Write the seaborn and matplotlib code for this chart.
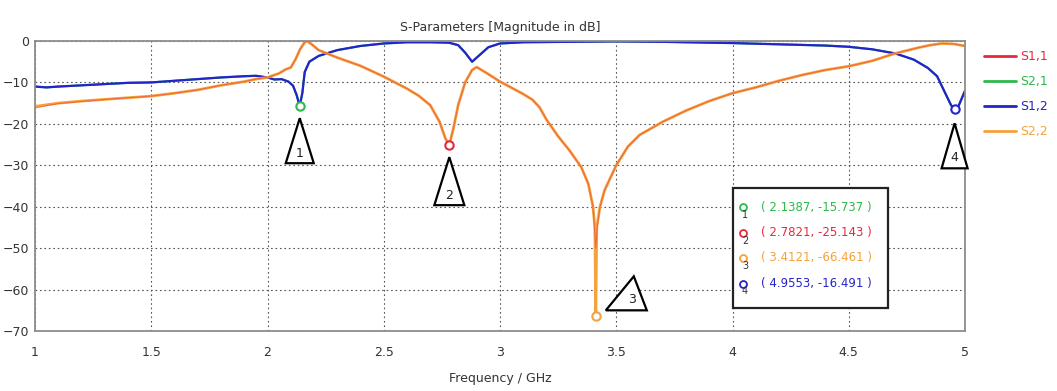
import numpy as np
import pandas as pd
import matplotlib
matplotlib.use("Agg")
import matplotlib.pyplot as plt
from matplotlib.patches import Polygon, Rectangle
import seaborn as sns

# --- dados (CST, S-parametros em dB) ---
series_names = ['S1,1', 'S2,1', 'S1,2', 'S2,2']
series_colors = ['#e8283a', '#2fb84c', '#2424cc', '#f5a23c']

freq_12 = [1.00, 1.05, 1.10, 1.20, 1.30, 1.40, 1.50, 1.60, 1.70, 1.80, 1.90, 1.95,
           2.00, 2.03, 2.06, 2.09, 2.11, 2.125, 2.1387, 2.15, 2.16, 2.18, 2.22, 2.30,
           2.40, 2.50, 2.60, 2.70, 2.78, 2.82, 2.85, 2.88, 2.91, 2.95, 3.00, 3.10,
           3.30, 3.50, 3.70, 3.90, 4.00, 4.20, 4.40, 4.50, 4.60, 4.70, 4.78, 4.84,
           4.88, 4.91, 4.94, 4.9553, 4.97, 4.985, 5.00]
s12_db = [-11.0, -11.2, -11.0, -10.7, -10.4, -10.1, -10.0, -9.6, -9.2, -8.8, -8.5, -8.4,
          -8.8, -9.3, -9.2, -9.8, -10.8, -13.0, -15.7, -12.5, -7.5, -5.0, -3.6, -2.2,
          -1.2, -0.6, -0.3, -0.3, -0.4, -1.0, -2.8, -5.0, -3.5, -1.5, -0.6, -0.3,
          -0.2, -0.1, -0.2, -0.4, -0.5, -0.8, -1.1, -1.4, -2.0, -3.0, -4.5, -6.5,
          -8.5, -12.0, -15.5, -16.5, -16.0, -14.0, -12.0]
s21_db = list(s12_db)  # S2,1 fica por baixo de S1,2

freq_22 = [1.00, 1.05, 1.10, 1.20, 1.30, 1.40, 1.50, 1.60, 1.70, 1.80, 1.90, 1.95,
           2.00, 2.05, 2.08, 2.10, 2.12, 2.14, 2.16, 2.17, 2.19, 2.22, 2.30, 2.40,
           2.50, 2.60, 2.65, 2.70, 2.74, 2.765, 2.7821, 2.80, 2.82, 2.85, 2.88, 2.90,
           2.95, 3.00, 3.05, 3.10, 3.14, 3.17, 3.20, 3.25, 3.30, 3.35, 3.38, 3.40,
           3.408, 3.4121, 3.416, 3.43, 3.45, 3.50, 3.55, 3.60, 3.70, 3.80, 3.90, 4.00,
           4.10, 4.20, 4.30, 4.40, 4.50, 4.60, 4.70, 4.80, 4.85, 4.90, 4.95, 5.00]
s22_db = [-15.8, -15.4, -15.0, -14.5, -14.1, -13.7, -13.3, -12.6, -11.8, -10.7, -9.8, -9.2,
          -8.8, -7.8, -6.8, -6.4, -4.5, -2.0, -0.3, 0.0, -0.8, -2.2, -4.0, -6.0,
          -8.6, -11.5, -13.2, -15.5, -19.5, -23.5, -25.1, -21.0, -15.5, -10.0, -7.0, -6.3,
          -8.0, -9.8, -11.3, -12.8, -14.2, -16.0, -19.0, -23.0, -26.5, -30.5, -34.5, -40.0,
          -45.0, -66.5, -45.0, -40.0, -36.0, -30.0, -25.5, -22.7, -19.5, -16.8, -14.5, -12.6,
          -11.2, -9.6, -8.2, -7.0, -6.1, -4.8, -3.0, -1.6, -1.0, -0.6, -0.7, -1.2]

freq_11 = [1.00, 1.05, 1.10, 1.20, 1.30, 1.40, 1.50, 1.60, 1.70, 1.80, 1.90, 1.95,
           2.00, 2.05, 2.08, 2.10, 2.12, 2.14, 2.16, 2.17, 2.19, 2.22, 2.30, 2.40,
           2.50, 2.60, 2.65, 2.70, 2.74, 2.765, 2.7821, 2.80, 2.82, 2.85, 2.88, 2.90,
           2.95, 3.00, 3.05, 3.10, 3.14, 3.17, 3.20, 3.25, 3.30, 3.35, 3.38, 3.40,
           3.406, 3.4121, 3.418, 3.43, 3.45, 3.50, 3.55, 3.60, 3.70, 3.80, 3.90, 4.00,
           4.10, 4.20, 4.30, 4.40, 4.50, 4.60, 4.70, 4.80, 4.85, 4.90, 4.95, 5.00]
s11_db = [-16.2, -15.6, -15.1, -14.6, -14.1, -13.7, -13.3, -12.6, -11.8, -10.7, -9.8, -9.2,
          -8.8, -7.8, -6.8, -6.4, -4.5, -2.0, -0.3, 0.0, -0.8, -2.2, -4.0, -6.0,
          -8.6, -11.5, -13.2, -15.5, -19.5, -23.5, -25.1, -21.0, -15.5, -10.0, -7.0, -6.3,
          -8.0, -9.8, -11.3, -12.8, -14.2, -16.0, -19.0, -23.0, -26.5, -30.5, -34.5, -40.0,
          -45.0, -50.0, -45.0, -40.0, -36.0, -30.0, -25.5, -22.7, -19.5, -16.8, -14.5, -12.6,
          -11.2, -9.6, -8.2, -7.0, -6.1, -4.8, -3.0, -1.6, -1.0, -0.6, -0.7, -1.2]

# marcadores
marker_ids = ['1', '2', '3', '4']
marker_series = ['S2,1', 'S1,1', 'S2,2', 'S1,2']
marker_freq = [2.1387, 2.7821, 3.4121, 4.9553]
marker_db = [-15.737, -25.143, -66.461, -16.491]

x_ticks = [1, 1.5, 2, 2.5, 3, 3.5, 4, 4.5, 5]
y_ticks = [0, -10, -20, -30, -40, -50, -60, -70]

# ===========================================
# FIGURA
# ===========================================
sns.set_theme(style="white")
plt.rcParams['font.family'] = ['DejaVu Sans']

cores = dict(zip(series_names, series_colors))

dados = {
    'S1,1': (freq_11, s11_db),
    'S2,1': (freq_12, s21_db),
    'S1,2': (freq_12, s12_db),
    'S2,2': (freq_22, s22_db),
}
# ordem de desenho: S1,1 fino por cima de S2,2 (nucleo avermelhado como no CST)
estilo = {'S2,1': (1.5, 1.0), 'S1,2': (1.6, 1.0), 'S2,2': (2.0, 1.0), 'S1,1': (0.8, 0.45)}

fig = plt.figure(figsize=(10.57, 3.91), dpi=100)
ax = fig.add_axes([35 / 1057, 60 / 391, 930 / 1057, 290 / 391])

for nome in ['S2,1', 'S1,2', 'S2,2', 'S1,1']:
    fx, fy = dados[nome]
    lw, alpha = estilo[nome]
    sns.lineplot(x=fx, y=fy, color=cores[nome], linewidth=lw, alpha=alpha,
                 estimator=None, sort=True, ax=ax)

ax.set_xlim(1, 5)
ax.set_ylim(-70, 0)
ax.set_xticks(x_ticks)
ax.set_xticklabels([f'{t:g}' for t in x_ticks])
ax.set_yticks(y_ticks)
ax.grid(True, color='#555555', linestyle=(0, (1.5, 2.5)), linewidth=0.8)
for sp in ax.spines.values():
    sp.set_color('#8c8c8c')
    sp.set_linewidth(1.3)
ax.tick_params(axis='both', labelsize=9, colors='#333333', length=4, direction='inout',
               width=1, pad=9)
ax.tick_params(axis='y', length=0, pad=4)
ax.set_xlabel('Frequency / GHz', fontsize=9, color='#333333')
ax.set_ylabel('')
ax.xaxis.set_label_coords(0.5, -0.14)
ax.set_title('S-Parameters [Magnitude in dB]', fontsize=9, color='#333333', pad=7)

# marcadores (circulos abertos)
for mid, ser, fx, fy in zip(marker_ids, marker_series, marker_freq, marker_db):
    ax.plot(fx, fy, marker='o', markersize=6, mfc='white', mec=cores[ser], mew=1.5,
            zorder=5)

# triangulos com numero (em pixels relativos ao marcador)
tri_verts = {
    '1': [(0, -12), (-14, -57), (14, -57)],
    '2': [(0, -12), (-15, -60), (15, -60)],
    '3': [(10, 6), (38, 40), (51, 6)],
    '4': [(0, -14), (-13, -59), (13, -59)],
}
tri_text = {'1': (0, -47), '2': (0, -50), '3': (36, 17), '4': (0, -48)}
fig.canvas.draw()
for mid, fx, fy in zip(marker_ids, marker_freq, marker_db):
    px, py = ax.transData.transform((fx, fy))
    verts = [(px + dx, py + dy) for dx, dy in tri_verts[mid]]
    fig.patches.append(Polygon(verts, closed=True, facecolor='white', edgecolor='black',
                               linewidth=1.6, transform=None, zorder=6))
    tx, ty = tri_text[mid]
    fig.text((px + tx) / fig.bbox.width, (py + ty) / fig.bbox.height, mid,
             ha='center', va='center', fontsize=9, color='#222222', zorder=7)

# caixa com valores dos marcadores
bx0, by0, bw, bh = (733 - 35) / 930, (331 - 308) / 290, 155 / 930, 120 / 290
ax.add_patch(Rectangle((bx0, by0), bw, bh, transform=ax.transAxes, facecolor='white',
                       edgecolor='#222222', linewidth=1.6, zorder=8))
for i, (mid, ser, fx, fy) in enumerate(zip(marker_ids, marker_series, marker_freq, marker_db)):
    ry = by0 + bh - (19 + 25.5 * i) / 290
    ax.plot(bx0 + 10 / 930, ry, marker='o', markersize=5, mfc='white', mec=cores[ser],
            mew=1.3, transform=ax.transAxes, zorder=9)
    ax.text(bx0 + 12 / 930, ry - 8 / 290, mid, transform=ax.transAxes, fontsize=7,
            color='#333333', ha='center', va='center', zorder=9)
    ax.text(bx0 + 28 / 930, ry, f'( {fx:.4f}, {fy:.3f} )', transform=ax.transAxes,
            fontsize=8.5, color=cores[ser], ha='left', va='center', zorder=9)

# legenda fora do eixo
handles = [plt.Line2D([], [], color=cores[s], linewidth=2) for s in series_names]
leg = ax.legend(handles, series_names, loc='upper left', bbox_to_anchor=(1.015, 0.985),
                frameon=False, fontsize=9, handlelength=2.6, labelspacing=0.95,
                handletextpad=0.3, borderaxespad=0)
for txt, s in zip(leg.get_texts(), series_names):
    txt.set_color(cores[s])

plt.savefig('out.png', dpi=100)
plt.close()
